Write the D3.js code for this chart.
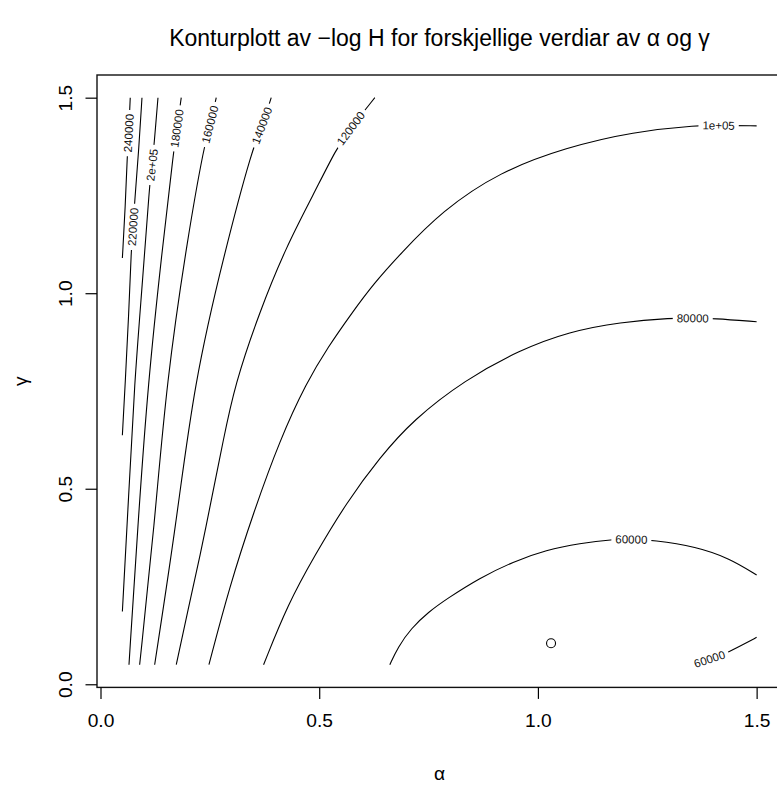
<!DOCTYPE html>
<html lang="no">
<head>
<meta charset="utf-8">
<title>Konturplott av -log H</title>
<script src="https://cdn.jsdelivr.net/npm/d3@7"></script>
<style>
  * { margin:0; padding:0; }
  body { background:#fff; width:777px; height:789px; overflow:hidden; }
  svg { display:block; font-family:"Liberation Sans", Arial, Helvetica, sans-serif; }
  .contour { fill:none; stroke:#000; stroke-width:1.1; }
  .clabel { font-size:11.5px; fill:#111; }
  .axis text { font-size:19.2px; fill:#000; font-family:"Liberation Sans", Arial, sans-serif; }
  .axis line { stroke:#000; stroke-width:1.2; }
</style>
</head>
<body>
<svg id="chart" width="777" height="789"></svg>
<script>
// contour levels (label text, one per drawn piece)
const levels = ["240000", "220000", "2e+05", "180000", "160000", "140000",
                "120000", "1e+05", "80000", "60000", "60000"];

// contour lines as [alpha, gamma] pairs
const c240000 = [[0.068, 1.5], [0.0644, 1.409], [0.0612, 1.354], [0.0567, 1.221], [0.05, 1.09]];
const c220000 = [[0.0948, 1.5], [0.0872, 1.362], [0.0781, 1.234], [0.0743, 1.17], [0.0704, 1.115],
                 [0.0644, 0.94], [0.0565, 0.77], [0.05, 0.637]];
const c200000 = [[0.1314, 1.5], [0.1222, 1.375], [0.1177, 1.328], [0.1124, 1.281], [0.0955, 1.021],
                 [0.0775, 0.77], [0.0644, 0.48], [0.05, 0.186]];
const c180000 = [[0.1846, 1.5], [0.1748, 1.422], [0.168, 1.371], [0.1405, 1.106], [0.1085, 0.77],
                 [0.0857, 0.412], [0.0651, 0.05]];
const c160000 = [[0.2646, 1.5], [0.2509, 1.432], [0.238, 1.383], [0.2, 1.149], [0.1504, 0.77],
                 [0.1238, 0.412], [0.0895, 0.05]];
const c140000 = [[0.3903, 1.5], [0.3698, 1.428], [0.3484, 1.375], [0.2837, 1.106], [0.2136, 0.77],
                 [0.1733, 0.412], [0.1238, 0.05]];
const c120000 = [[0.6272, 1.5], [0.5716, 1.422], [0.5396, 1.371], [0.4863, 1.251], [0.425, 1.12],
                 [0.3637, 0.953], [0.3066, 0.765], [0.28, 0.62], [0.255, 0.48], [0.228, 0.33],
                 [0.2, 0.19], [0.1732, 0.05]];
const c100000 = [[1.5, 1.428], [1.413, 1.429], [1.37, 1.43], [1.217, 1.413], [1.065, 1.373],
                 [0.913, 1.311], [0.78, 1.21], [0.685, 1.1], [0.625, 1.025], [0.575, 0.95],
                 [0.52, 0.862], [0.4711, 0.772], [0.41, 0.625], [0.35, 0.44], [0.295, 0.25], [0.2479, 0.05]];
const c80000 = [[1.5, 0.927], [1.4, 0.936], [1.354, 0.936], [1.309, 0.937], [1.187, 0.926],
                [1.0727, 0.902], [0.9585, 0.855], [0.8328, 0.778], [0.7147, 0.676], [0.6386, 0.58],
                [0.5625, 0.465], [0.49, 0.33], [0.4284, 0.205], [0.3728, 0.05]];
const c60000a = [[0.6614, 0.05], [0.68, 0.095], [0.71, 0.143], [0.75, 0.185], [0.791, 0.218], [0.867, 0.272],
                 [0.9432, 0.3135], [1.0195, 0.3434], [1.0956, 0.3605], [1.1717, 0.3708], [1.2137, 0.3708],
                 [1.263, 0.369], [1.3622, 0.352], [1.4383, 0.322], [1.5, 0.2795]];
const c60000b = [[1.5, 0.12], [1.466, 0.1], [1.43, 0.079], [1.39, 0.063], [1.35, 0.05]];

const contours = [c240000, c220000, c200000, c180000, c160000, c140000,
                  c120000, c100000, c80000, c60000a, c60000b];

// where each label sits on its line
const labelAlpha = [0.0644, 0.0743, 0.1177, 0.1748, 0.2509, 0.3698, 0.5716, 1.413, 1.354, 1.2137, 1.3925];
const labelGamma = [1.409, 1.17, 1.328, 1.422, 1.432, 1.428, 1.422, 1.429, 0.936, 0.3708, 0.062];

// estimated optimum
const optAlpha = [1.03];
const optGamma = [0.105];

const tickValues = [0, 0.5, 1.0, 1.5];
const tickLabels = ["0.0", "0.5", "1.0", "1.5"];

// R style: data range 0.05..1.5 extended by 4% on each side
const dataMin = 0.05, dataMax = 1.5;
const pad = (dataMax - dataMin) * 0.04;

const plot = { left: 97, right: 782, top: 75, bottom: 687.4 };

const svg = d3.select("#chart");

const x = d3.scaleLinear().domain([dataMin - pad, dataMax + pad]).range([plot.left, plot.right]);
const y = d3.scaleLinear().domain([dataMin - pad, dataMax + pad]).range([plot.bottom, plot.top]);

// ─── Contours ───
const line = d3.line()
  .x(d => x(d[0]))
  .y(d => y(d[1]))
  .curve(d3.curveBasis);

const paths = svg.append("g").selectAll("path")
  .data(contours)
  .join("path")
  .attr("class", "contour")
  .attr("d", line);

// ─── Labels (white gap + rotated text, like contour()) ───
const labelG = svg.append("g");
paths.each(function(d, i) {
  const total = this.getTotalLength();
  const tx = x(labelAlpha[i]), ty = y(labelGamma[i]);
  let best = 0, bestD = Infinity;
  for (let L = 0; L <= total; L += 0.5) {
    const p = this.getPointAtLength(L);
    const dd = (p.x - tx) ** 2 + (p.y - ty) ** 2;
    if (dd < bestD) { bestD = dd; best = L; }
  }
  const p = this.getPointAtLength(best);
  const p1 = this.getPointAtLength(Math.max(0, best - 5));
  const p2 = this.getPointAtLength(Math.min(total, best + 5));
  let ang = Math.atan2(p2.y - p1.y, p2.x - p1.x) * 180 / Math.PI;
  if (ang > 90) ang -= 180;
  if (ang <= -90) ang += 180;

  const g = labelG.append("g").attr("transform", `translate(${p.x},${p.y}) rotate(${ang})`);
  const rect = g.append("rect").attr("fill", "#fff");
  const t = g.append("text")
    .attr("class", "clabel")
    .attr("text-anchor", "middle")
    .attr("dy", "0.36em")
    .text(levels[i]);
  const w = t.node().getComputedTextLength() + 8;
  rect.attr("x", -w / 2).attr("y", -4).attr("width", w).attr("height", 8);
});

// ─── Optimum point ───
svg.append("g").selectAll("circle")
  .data(optAlpha)
  .join("circle")
  .attr("cx", (d, i) => x(d))
  .attr("cy", (d, i) => y(optGamma[i]))
  .attr("r", 4.5)
  .attr("fill", "none")
  .attr("stroke", "#000")
  .attr("stroke-width", 1.1);

// ─── Box ───
svg.append("rect")
  .attr("x", plot.left).attr("y", plot.top)
  .attr("width", plot.right - plot.left).attr("height", plot.bottom - plot.top)
  .attr("fill", "none").attr("stroke", "#111").attr("stroke-width", 1.4);

// ─── Axes ───
const xAxis = svg.append("g")
  .attr("class", "axis")
  .attr("transform", `translate(0,${plot.bottom})`)
  .call(d3.axisBottom(x).tickValues(tickValues).tickFormat((d, i) => tickLabels[i])
    .tickSize(11.5).tickPadding(14));
xAxis.select(".domain").remove();
xAxis.selectAll("text").attr("dy", "0.71em");

const yAxis = svg.append("g")
  .attr("class", "axis")
  .attr("transform", `translate(${plot.left},0)`)
  .call(d3.axisLeft(y).tickValues(tickValues).tickFormat((d, i) => tickLabels[i]).tickSize(11.5));
yAxis.select(".domain").remove();
yAxis.selectAll("text")
  .attr("transform", "rotate(-90)")
  .attr("x", 0).attr("y", -25).attr("dy", 0)
  .attr("text-anchor", "middle");

// ─── Title and axis titles ───
const cx = (plot.left + plot.right) / 2;
const cy = (plot.top + plot.bottom) / 2;

svg.append("text")
  .attr("x", cx).attr("y", 46)
  .attr("text-anchor", "middle")
  .attr("font-size", 23)
  .text("Konturplott av \u2212log H for forskjellige verdiar av \u03b1 og \u03b3");

svg.append("text")
  .attr("x", cx).attr("y", 780)
  .attr("text-anchor", "middle")
  .attr("font-size", 19.2)
  .text("\u03b1");

svg.append("text")
  .attr("transform", `translate(27,${cy}) rotate(-90)`)
  .attr("text-anchor", "middle")
  .attr("font-size", 19.2)
  .text("\u03b3");
</script>
</body>
</html>
